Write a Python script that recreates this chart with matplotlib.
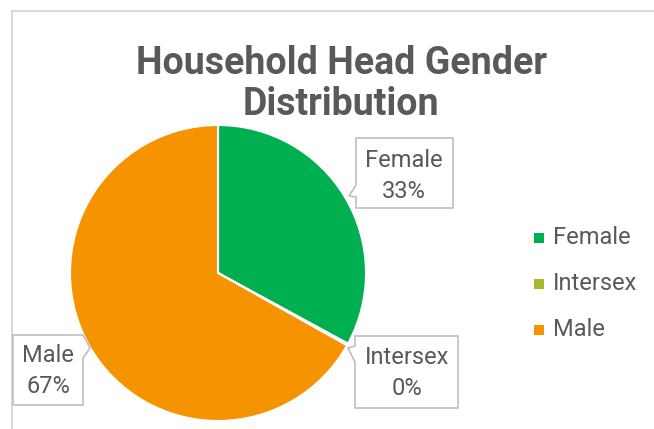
import matplotlib.pyplot as plt
from matplotlib.patches import Polygon, Rectangle
from matplotlib.lines import Line2D

# data
categories = ['Female', 'Intersex', 'Male']
shares = [33, 0.2, 67]
pct_labels = ['33%', '0%', '67%']
colors = ['#00B050', '#A9B92B', '#F59300']

W, H = 654, 429
TXT = '#595959'
GRID = '#D9D9D9'

fig = plt.figure(figsize=(W / 100, H / 100), dpi=100)
ax = fig.add_axes([0, 0, 1, 1])

ax.pie(shares, colors=colors, startangle=90, counterclock=False,
       center=(218, H - 273), radius=148,
       wedgeprops=dict(edgecolor='white', linewidth=1.5))

# pie() resets the limits, so set them afterwards
ax.set_xlim(0, W)
ax.set_ylim(0, H)
ax.set_aspect('equal')
ax.axis('off')

# chart frame (only top and left edges visible)
ax.add_line(Line2D([12, W], [H - 11, H - 11], color=GRID, lw=1.5))
ax.add_line(Line2D([12, 12], [H - 11, 0], color=GRID, lw=1.5))

ax.text(341, H - 84, 'Household Head Gender\nDistribution', ha='center', va='center',
        fontsize=27, fontweight='bold', color=TXT, family='Roboto', linespacing=1.12)


def callout(pts, cx, cy, text):
    # pts in top-down pixel coords
    poly = Polygon([(x, H - y) for x, y in pts], closed=True, facecolor='white',
                   edgecolor='#BFBFBF', lw=1.2, zorder=3)
    ax.add_patch(poly)
    ax.text(cx, H - cy, text, ha='center', va='center', fontsize=17, color=TXT,
            family='Roboto', linespacing=1.42, zorder=4)


callout([(356, 138), (453, 138), (453, 208), (356, 208), (356, 197),
         (349, 196), (356, 185)], 404, 176, categories[0] + '\n' + pct_labels[0])
callout([(355, 336), (458, 336), (458, 408), (355, 408), (355, 362),
         (348, 348), (355, 346)], 407, 373, categories[1] + '\n' + pct_labels[1])
callout([(13, 335), (83, 335), (90, 348), (83, 358), (83, 405), (13, 405)],
        48, 371, categories[2] + '\n' + pct_labels[2])

# legend
for i, (name, c) in enumerate(zip(categories, colors)):
    y = 238 + 46 * i
    ax.add_patch(Rectangle((534, H - y - 5), 10, 10, facecolor=c, edgecolor='none'))
    ax.text(553, H - y, name, ha='left', va='center', fontsize=17, color=TXT,
            family='Roboto')

fig.savefig('out.png', dpi=100)
